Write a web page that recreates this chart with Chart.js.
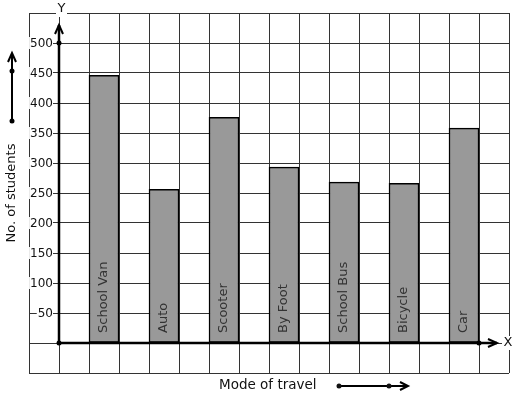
<!DOCTYPE html>
<html>
<head>
<meta charset="utf-8">
<script src="https://cdn.jsdelivr.net/npm/chart.js@4"></script>
<style>
  html, body { margin: 0; padding: 0; background: #fff; }
  canvas { display: block; }
</style>
</head>
<body>
<canvas id="travelChart" width="517" height="399"></canvas>
<script>
const modes = ["School Van", "Auto", "Scooter", "By Foot", "School Bus", "Bicycle", "Car"];
const students = [446, 256, 376, 293, 268, 266, 358];
const yTicks = [50, 100, 150, 200, 250, 300, 350, 400, 450, 500];

const FONT = '"DejaVu Sans", sans-serif';

function dot(ctx, x, y) {
  ctx.beginPath();
  ctx.arc(x, y, 2.5, 0, Math.PI * 2);
  ctx.fill();
}

function chevron(ctx, pts) {
  ctx.beginPath();
  ctx.moveTo(pts[0][0], pts[0][1]);
  ctx.lineTo(pts[1][0], pts[1][1]);
  ctx.lineTo(pts[2][0], pts[2][1]);
  ctx.stroke();
}

const decor = {
  id: "decor",
  beforeDraw(chart) {
    const ctx = chart.ctx;
    ctx.save();
    ctx.fillStyle = "#fff";
    ctx.fillRect(0, 0, chart.width, chart.height);
    ctx.restore();
  },
  afterDraw(chart) {
    const ctx = chart.ctx;
    const xs = chart.scales.x;
    const ys = chart.scales.y;
    const ox = xs.getPixelForValue(1);
    const oy = ys.getPixelForValue(0);

    ctx.save();
    // y tick labels with white boxes over the grid
    ctx.font = "12px " + FONT;
    ctx.textAlign = "right";
    ctx.textBaseline = "middle";
    yTicks.forEach(v => {
      const y = ys.getPixelForValue(v);
      const w = ctx.measureText(String(v)).width;
      ctx.fillStyle = "#fff";
      ctx.fillRect(ox - 6 - w - 1, y - 6, w + 1, 12);
      ctx.fillStyle = "#111";
      ctx.fillText(String(v), ox - 6, y + 0.5);
    });

    // axes
    ctx.strokeStyle = "#000";
    ctx.fillStyle = "#000";
    ctx.lineWidth = 2.5;
    const yTop = ys.getPixelForValue(530);
    const xEnd = xs.getPixelForValue(15.6);
    ctx.beginPath();
    ctx.moveTo(ox, oy);
    ctx.lineTo(ox, yTop);
    ctx.moveTo(ox, oy);
    ctx.lineTo(xEnd, oy);
    ctx.stroke();
    ctx.lineWidth = 2;
    chevron(ctx, [[ox - 4, yTop + 9], [ox, yTop], [ox + 4, yTop + 9]]);
    chevron(ctx, [[xEnd - 9, oy - 4], [xEnd, oy], [xEnd - 9, oy + 4]]);
    dot(ctx, ox, oy);
    dot(ctx, ox, ys.getPixelForValue(500));
    dot(ctx, xs.getPixelForValue(15), oy);

    // axis letters
    ctx.font = "13px " + FONT;
    ctx.textAlign = "center";
    ctx.textBaseline = "middle";
    ctx.fillStyle = "#fff";
    ctx.fillRect(ox - 3, 2, 11, 15);
    ctx.fillStyle = "#111";
    ctx.fillText("Y", ox + 2.5, 9);
    ctx.fillStyle = "#fff";
    ctx.fillRect(xEnd + 5, oy - 7, 11, 14);
    ctx.fillStyle = "#111";
    ctx.fillText("X", xEnd + 11, oy);

    // category names inside bars
    ctx.font = "13px " + FONT;
    ctx.fillStyle = "#333";
    ctx.textAlign = "left";
    ctx.textBaseline = "middle";
    const meta = chart.getDatasetMeta(0);
    meta.data.forEach((bar, i) => {
      ctx.save();
      ctx.translate(bar.x, oy - 10);
      ctx.rotate(-Math.PI / 2);
      ctx.fillText(modes[i], 0, 0);
      ctx.restore();
    });

    // y title with arrow
    ctx.fillStyle = "#111";
    ctx.save();
    ctx.translate(12, 193);
    ctx.rotate(-Math.PI / 2);
    ctx.textAlign = "center";
    ctx.fillText("No. of students", 0, 0);
    ctx.restore();
    ctx.strokeStyle = "#000";
    ctx.fillStyle = "#000";
    ctx.lineWidth = 2;
    ctx.beginPath();
    ctx.moveTo(12, 121);
    ctx.lineTo(12, 53);
    ctx.stroke();
    chevron(ctx, [[8, 62], [12, 53], [16, 62]]);
    dot(ctx, 12, 71);
    dot(ctx, 12, 121);

    // x title with arrow
    ctx.font = "13.5px " + FONT;
    ctx.fillStyle = "#111";
    ctx.textAlign = "left";
    ctx.fillText("Mode of travel", 219, 385);
    ctx.beginPath();
    ctx.moveTo(339, 386);
    ctx.lineTo(408, 386);
    ctx.stroke();
    chevron(ctx, [[400, 382], [408, 386], [400, 390]]);
    dot(ctx, 339, 386);
    dot(ctx, 389, 386);
    ctx.restore();
  }
};

new Chart(document.getElementById("travelChart").getContext("2d"), {
  type: "bar",
  data: {
    datasets: [
      {
        label: "No. of students",
        data: students.map((v, i) => ({ x: 2.5 + 2 * i, y: v })),
        backgroundColor: "#999999",
        borderColor: "#000",
        borderWidth: 1.5,
        borderSkipped: false,
        barThickness: 30,
      },
    ],
  },
  options: {
    responsive: false,
    animation: false,
    devicePixelRatio: 1,
    layout: { padding: { left: 29, top: 13, right: 8, bottom: 26 } },
    plugins: { legend: { display: false }, tooltip: { enabled: false } },
    scales: {
      x: {
        type: "linear",
        offset: false,
        min: 0,
        max: 16,
        ticks: { display: false, stepSize: 1 },
        grid: { color: "#333", lineWidth: 1, drawTicks: false, offset: false },
        border: { display: false },
      },
      y: {
        min: -50,
        max: 550,
        ticks: { display: false, stepSize: 50 },
        grid: { color: "#333", lineWidth: 1, drawTicks: false },
        border: { display: false },
      },
    },
  },
  plugins: [decor],
});
</script>
</body>
</html>
